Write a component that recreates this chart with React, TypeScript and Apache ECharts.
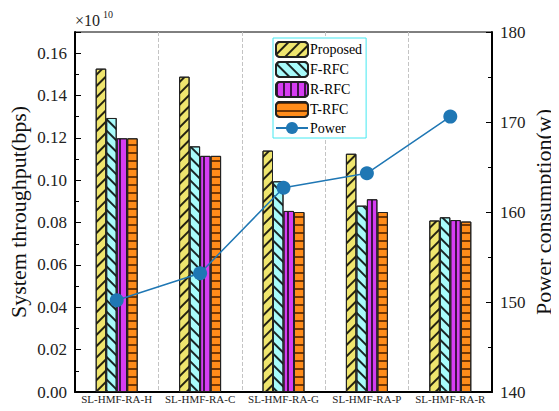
import React, { useEffect, useRef } from "react";
import * as echarts from "echarts";

const categories = ["SL-HMF-RA-H", "SL-HMF-RA-C", "SL-HMF-RA-G", "SL-HMF-RA-P", "SL-HMF-RA-R"];
const proposed = [0.1527, 0.1489, 0.114, 0.1125, 0.081];
const fRFC = [0.1294, 0.116, 0.0995, 0.088, 0.0825];
const rRFC = [0.1198, 0.1115, 0.0855, 0.091, 0.0812];
const tRFC = [0.1198, 0.1115, 0.085, 0.085, 0.0805];
const power = [150.2, 153.2, 162.7, 164.3, 170.6];

const FONT = "Liberation Serif";

export default function App() {
  const ref = useRef<HTMLDivElement>(null);
  useEffect(() => {
    const chart = echarts.init(ref.current!, null, { renderer: "svg" });
    const barBase = (name: string, data: number[], color: string, decal: any) => ({
      name,
      type: "bar",
      data,
      barWidth: 10.5,
      barGap: "0%",
      itemStyle: { color, borderColor: "#222", borderWidth: 1, decal },
    });
    chart.setOption({
      animation: false,
      textStyle: { fontFamily: FONT },
      grid: {
        left: 75, right: 67, top: 32, bottom: 19,
        show: true, borderColor: "#000", borderWidth: 1, backgroundColor: "transparent",
        containLabel: false, outerBoundsMode: "none",
      },
      legend: {
        orient: "vertical",
        left: 273,
        top: 38,
        itemWidth: 32,
        itemHeight: 15,
        itemGap: 3,
        padding: [3, 4, 3, 2],
        borderColor: "#44e8f0",
        borderWidth: 1,
        backgroundColor: "#fff",
        textStyle: { fontFamily: FONT, fontSize: 14, color: "#000", padding: [0, 0, 0, -3] },
        data: ["Proposed", "F-RFC", "R-RFC", "T-RFC", "Power"],
      },
      graphic: [
        { type: "text", left: 75, top: 12, style: { text: "×10", fontFamily: FONT, fontSize: 16, fill: "#222" } },
        { type: "text", left: 103, top: 9, style: { text: "10", fontFamily: FONT, fontSize: 10, fill: "#222" } },
      ],
      xAxis: {
        type: "category",
        data: categories,
        axisLine: { lineStyle: { color: "#000", width: 2 } },
        axisTick: { show: false },
        axisLabel: {
          show: true, fontSize: 11, lineHeight: 11, color: "#222", margin: 1,
          verticalAlign: "top", interval: 0, hideOverlap: false,
        },
        splitLine: { show: true, interval: 0, lineStyle: { type: "dashed", color: "#c4c4c4", width: 1 } },
      },
      yAxis: [
        {
          type: "value",
          min: 0,
          max: 0.17,
          interval: 0.02,
          name: "System throughput(bps)",
          nameLocation: "middle",
          nameGap: 46,
          nameMoveOverlap: false,
          nameTextStyle: { fontFamily: FONT, fontSize: 22, color: "#111" },
          axisLine: { show: true, lineStyle: { color: "#000", width: 2 } },
          axisTick: { show: true, inside: true, length: 6, lineStyle: { color: "#000" } },
          minorTick: { show: true, splitNumber: 2, length: 4, lineStyle: { color: "#000" } },
          axisLabel: {
            fontFamily: FONT,
            fontSize: 17,
            color: "#222",
            showMaxLabel: false,
            formatter: (v: number) => v.toFixed(2),
          },
          splitLine: { show: false },
        },
        {
          type: "value",
          min: 140,
          max: 180,
          interval: 10,
          position: "right",
          name: "Power consumption(w)",
          nameLocation: "middle",
          nameGap: 40,
          nameMoveOverlap: false,
          nameTextStyle: { fontFamily: FONT, fontSize: 22, color: "#111" },
          axisLine: { show: true, lineStyle: { color: "#000", width: 2 } },
          axisTick: { show: true, inside: true, length: 6, lineStyle: { color: "#000" } },
          minorTick: { show: true, splitNumber: 2, length: 4, lineStyle: { color: "#000" } },
          axisLabel: { fontFamily: FONT, fontSize: 17, color: "#222" },
          splitLine: { show: false },
        },
      ],
      series: [
        barBase("Proposed", proposed, "#efe56e", {
          symbol: "rect", symbolSize: 1, dashArrayX: [1, 0], dashArrayY: [1.1, 6], rotation: -Math.PI / 4, color: "rgba(0,0,0,0.85)",
        }),
        barBase("F-RFC", fRFC, "#a8fbfb", {
          symbol: "rect", symbolSize: 1, dashArrayX: [1, 0], dashArrayY: [1.1, 6], rotation: Math.PI / 4, color: "rgba(0,0,0,0.85)",
        }),
        barBase("R-RFC", rRFC, "#d63df2", {
          symbol: "rect", symbolSize: 1, dashArrayX: [1.1, 5], dashArrayY: [1, 0], rotation: 0, color: "rgba(0,0,0,0.7)",
        }),
        barBase("T-RFC", tRFC, "#ff8c1a", {
          symbol: "rect", symbolSize: 1, dashArrayX: [1, 0], dashArrayY: [1.2, 6], rotation: 0, color: "rgba(90,40,0,0.85)",
        }),
        {
          name: "Power",
          type: "line",
          yAxisIndex: 1,
          data: power,
          symbol: "circle",
          symbolSize: 14,
          lineStyle: { color: "#1f77b4", width: 1.5 },
          itemStyle: { color: "#1f77b4" },
          z: 5,
        },
      ],
    });
    return () => chart.dispose();
  }, []);
  return <div ref={ref} style={{ width: 559, height: 411, margin: -8 }} />;
}
